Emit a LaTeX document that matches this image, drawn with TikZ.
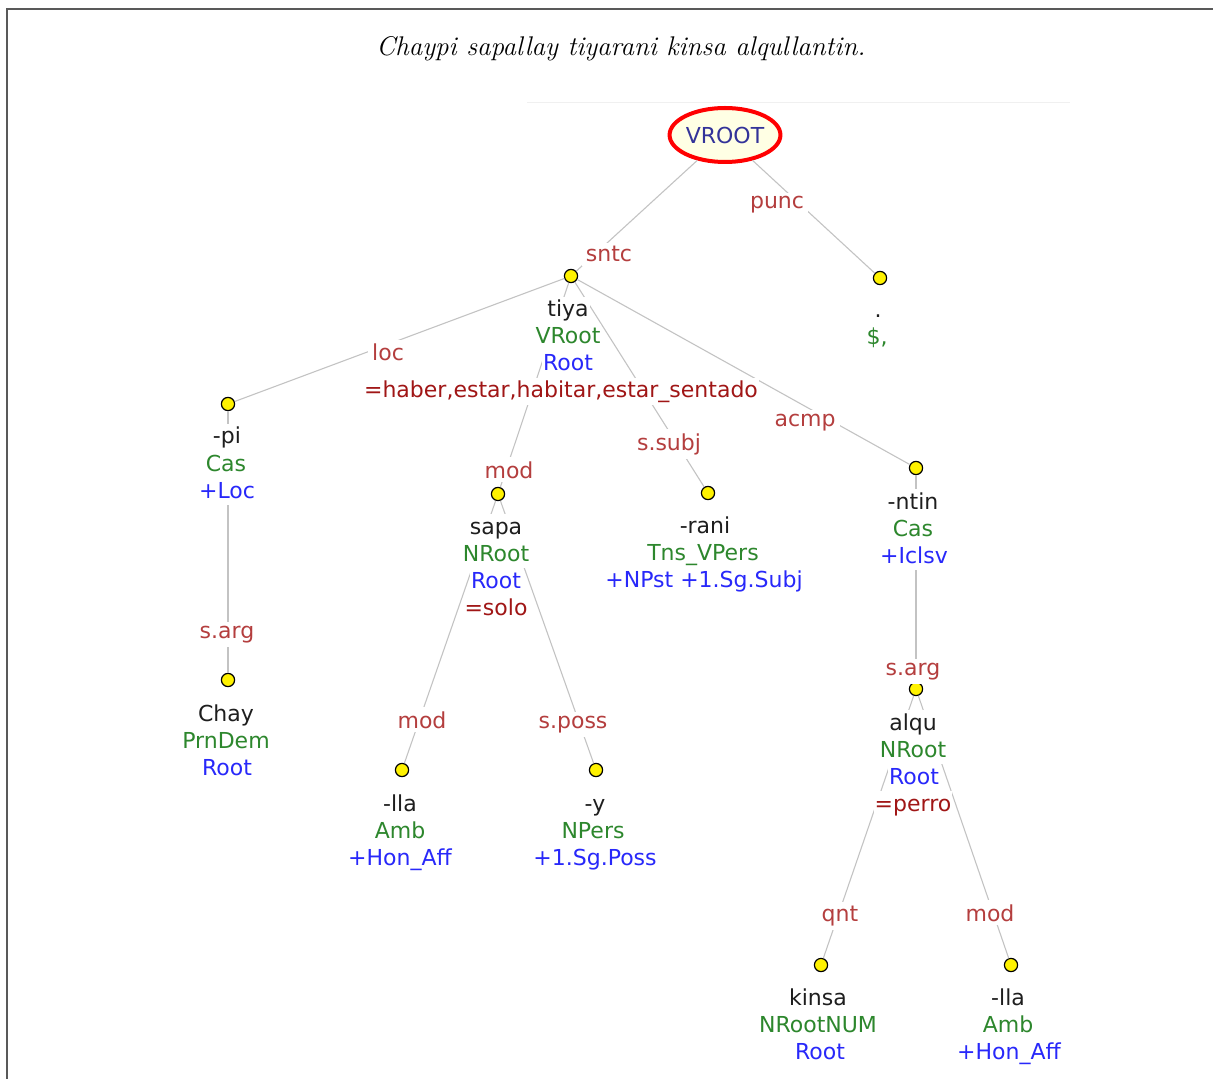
\documentclass[tikz,border=0pt]{standalone}
\usepackage{fontspec}
\usetikzlibrary{shapes.geometric}

\newfontfamily\treefont{DejaVu Sans}

\definecolor{edgegray}{RGB}{195,195,195}
\definecolor{relred}{RGB}{180,62,62}
\definecolor{lemmared}{RGB}{160,22,22}
\definecolor{posgreen}{RGB}{45,135,45}
\definecolor{morphblue}{RGB}{40,40,250}
\definecolor{wordblack}{RGB}{30,30,30}
\definecolor{rootblue}{RGB}{51,51,153}
\definecolor{rootfill}{RGB}{255,255,228}

\tikzset{
  treetxt/.style={font=\treefont\fontsize{11}{13}\selectfont},
  tree edge/.style={draw=edgegray, line width=0.55pt},
  tokdot/.style={circle, draw=black, fill=yellow, line width=0.6pt,
    minimum size=6.6pt, inner sep=0pt},
  reltxt/.style={treetxt, text=relred, fill=white, inner sep=2pt, anchor=base},
  tline/.style={treetxt, fill=white, inner sep=0.5pt, anchor=base,
    text height=9.5pt, text depth=3pt},
  wordtxt/.style={tline, text=wordblack},
  postxt/.style={tline, text=posgreen},
  morphtxt/.style={tline, text=morphblue},
  lemmatxt/.style={tline, text=lemmared}
}

\begin{document}
\begin{tikzpicture}[x=0.5pt, y=-0.5pt]

  % Fix the size of the picture
  \useasboundingbox (0,0) rectangle (1213,1079);

  % Frame round the page
  \draw[black!65, line width=1pt] (7,1079) -- (7,9) -- (1213,9);
  \draw[black!6, line width=0.5pt] (527,103) -- (1070,103);

  % Sentence
  \node[font=\itshape\fontsize{13.5}{16}\selectfont, anchor=base] (title)
    at (621,56) {Chaypi sapallay tiyarani kinsa alqullantin.};

  % The root
  \node[ellipse, draw=red, line width=2pt, fill=rootfill, text=rootblue,
    minimum width=51pt, minimum height=27pt, inner sep=0pt, treetxt]
    (vroot) at (725,135) {VROOT};

  % Token dots
  \node[tokdot] (tiya) at (571,276) {};
  \node[tokdot] (punct) at (880,278) {};
  \node[tokdot] (pi) at (228,404) {};
  \node[tokdot] (sapa) at (498,494) {};
  \node[tokdot] (rani) at (708,493) {};
  \node[tokdot] (ntin) at (916,468) {};
  \node[tokdot] (chay) at (228,680) {};
  \node[tokdot] (alqu) at (916,689) {};
  \node[tokdot] (llaA) at (402,770) {};
  \node[tokdot] (y) at (596,770) {};
  \node[tokdot] (kinsa) at (821,965) {};
  \node[tokdot] (llaB) at (1011,965) {};

  % Dependency edges
  \draw[tree edge] (vroot) -- (tiya);
  \draw[tree edge] (vroot) -- (punct);
  \draw[tree edge] (tiya) -- (pi);
  \draw[tree edge] (tiya) -- (sapa);
  \draw[tree edge] (tiya) -- (rani);
  \draw[tree edge] (tiya) -- (ntin);
  \draw[tree edge] (pi) -- (chay);
  \draw[tree edge] (sapa) -- (llaA);
  \draw[tree edge] (sapa) -- (y);
  \draw[tree edge] (ntin) -- (alqu);
  \draw[tree edge] (alqu) -- (kinsa);
  \draw[tree edge] (alqu) -- (llaB);

  % Relation labels
  \node[reltxt] (r-sntc) at (609,262) {sntc};
  \node[reltxt] (r-punc) at (777,209) {punc};
  \node[reltxt] (r-loc) at (388,361) {loc};
  \node[reltxt] (r-mod1) at (509,478) {mod};
  \node[reltxt] (r-subj) at (669,450) {s.subj};
  \node[reltxt] (r-acmp) at (805,426) {acmp};
  \node[reltxt] (r-arg1) at (227,638) {s.arg};
  \node[reltxt] (r-arg2) at (913,675) {s.arg};
  \node[reltxt] (r-mod2) at (422,728) {mod};
  \node[reltxt] (r-poss) at (573,728) {s.poss};
  \node[reltxt] (r-qnt) at (840,921) {qnt};
  \node[reltxt] (r-mod3) at (990,921) {mod};

  % tiya
  \node[wordtxt] (tiya-w) at (568,317) {tiya};
  \node[postxt] (tiya-p) at (568,344) {VRoot};
  \node[morphtxt] (tiya-m) at (568,371) {Root};
  \node[lemmatxt] (tiya-l) at (561,398) {=haber,estar,habitar,estar\_sentado};

  % punctuation
  \node[wordtxt] (punct-w) at (878,318) {.};
  \node[postxt] (punct-p) at (877,345) {\$,};

  % -pi
  \node[wordtxt] (pi-w) at (227,444) {-pi};
  \node[postxt] (pi-p) at (226,471) {Cas};
  \node[morphtxt] (pi-m) at (227,498) {+Loc};

  % sapa
  \node[wordtxt] (sapa-w) at (496,534) {sapa};
  \node[postxt] (sapa-p) at (496,561) {NRoot};
  \node[morphtxt] (sapa-m) at (496,588) {Root};
  \node[lemmatxt] (sapa-l) at (496,615) {=solo};

  % -rani
  \node[wordtxt] (rani-w) at (705,533) {-rani};
  \node[postxt] (rani-p) at (703,560) {Tns\_VPers};
  \node[morphtxt] (rani-m) at (704,587) {+NPst +1.Sg.Subj};

  % -ntin
  \node[wordtxt] (ntin-w) at (913,509) {-ntin};
  \node[postxt] (ntin-p) at (913,536) {Cas};
  \node[morphtxt] (ntin-m) at (914,563) {+Iclsv};

  % Chay
  \node[wordtxt] (chay-w) at (226,721) {Chay};
  \node[postxt] (chay-p) at (226,748) {PrnDem};
  \node[morphtxt] (chay-m) at (227,775) {Root};

  % alqu
  \node[wordtxt] (alqu-w) at (913,730) {alqu};
  \node[postxt] (alqu-p) at (913,757) {NRoot};
  \node[morphtxt] (alqu-m) at (914,784) {Root};
  \node[lemmatxt] (alqu-l) at (913,811) {=perro};

  % -lla under sapa
  \node[wordtxt] (llaA-w) at (400,811) {-lla};
  \node[postxt] (llaA-p) at (400,838) {Amb};
  \node[morphtxt] (llaA-m) at (400,865) {+Hon\_Aff};

  % -y
  \node[wordtxt] (y-w) at (595,811) {-y};
  \node[postxt] (y-p) at (593,838) {NPers};
  \node[morphtxt] (y-m) at (595,865) {+1.Sg.Poss};

  % kinsa
  \node[wordtxt] (kinsa-w) at (818,1005) {kinsa};
  \node[postxt] (kinsa-p) at (818,1032) {NRootNUM};
  \node[morphtxt] (kinsa-m) at (820,1059) {Root};

  % -lla under alqu
  \node[wordtxt] (llaB-w) at (1008,1005) {-lla};
  \node[postxt] (llaB-p) at (1008,1032) {Amb};
  \node[morphtxt] (llaB-m) at (1009,1059) {+Hon\_Aff};

\end{tikzpicture}
\end{document}
